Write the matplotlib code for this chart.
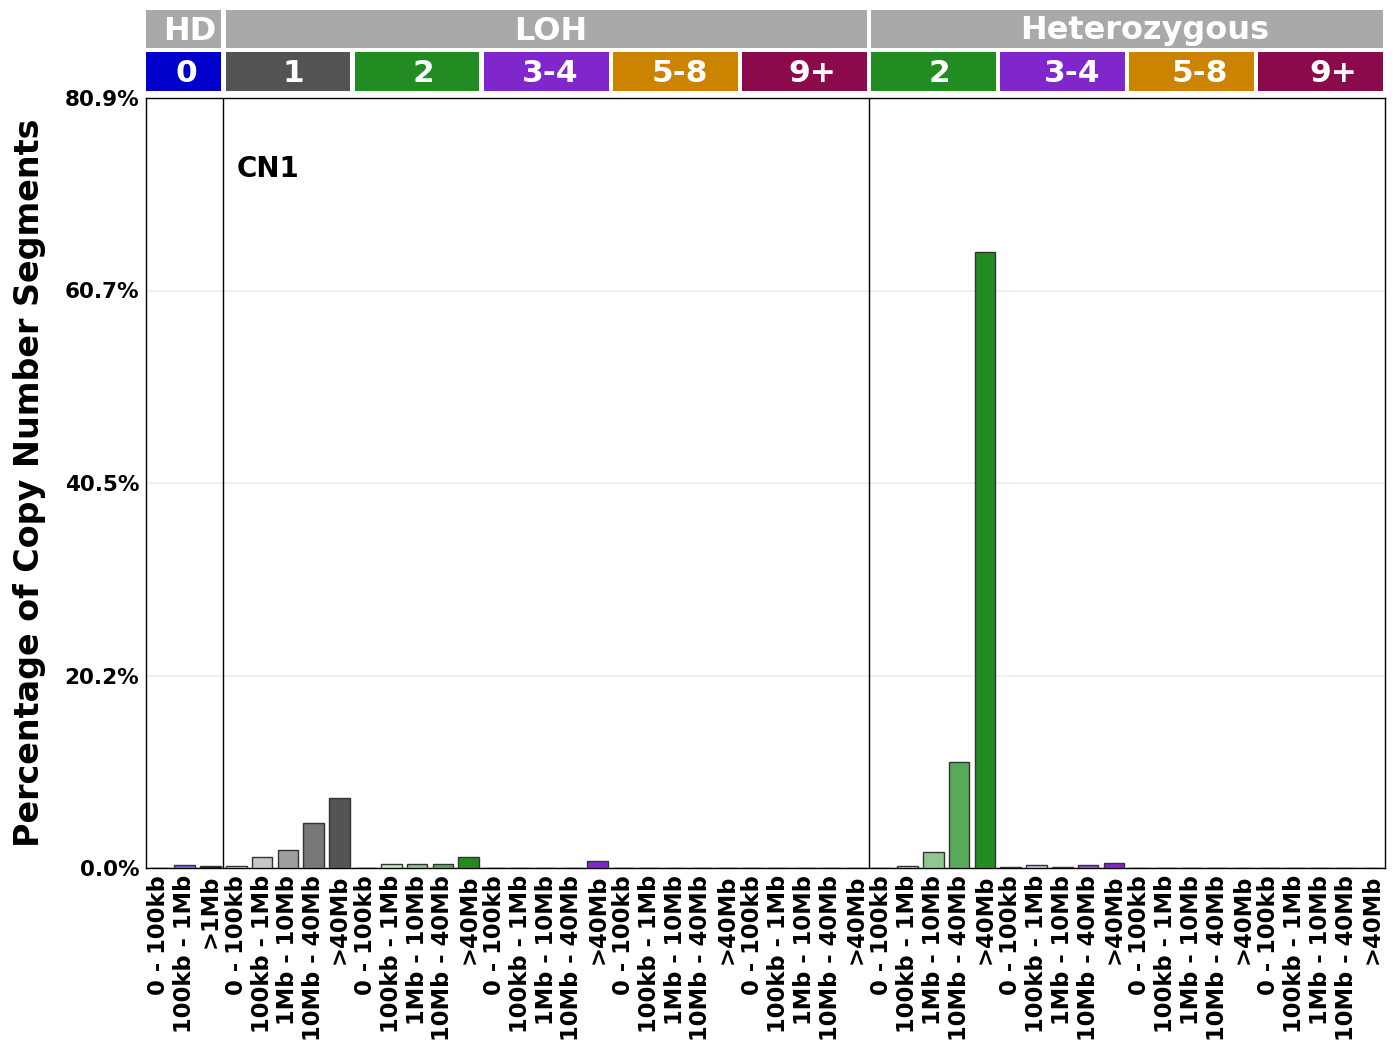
import matplotlib
matplotlib.use("Agg")
import matplotlib.pyplot as plt
import matplotlib.transforms as mtransforms
from matplotlib.patches import Rectangle

# ---- data ----
size_labels_hd = ["0 - 100kb", "100kb - 1Mb", ">1Mb"]
size_labels = ["0 - 100kb", "100kb - 1Mb", "1Mb - 10Mb", "10Mb - 40Mb", ">40Mb"]

hd_0 = [0.05, 0.28, 0.17]
loh_1 = [0.17, 1.12, 1.86, 4.70, 7.32]
loh_2 = [0.05, 0.39, 0.39, 0.39, 1.12]
loh_34 = [0.05, 0.05, 0.05, 0.0, 0.70]
loh_58 = [0.0, 0.0, 0.0, 0.0, 0.0]
loh_9 = [0.0, 0.0, 0.0, 0.0, 0.0]
het_2 = [0.0, 0.17, 1.65, 11.10, 64.72]
het_34 = [0.07, 0.28, 0.07, 0.28, 0.49]
het_58 = [0.0, 0.0, 0.0, 0.0, 0.0]
het_9 = [0.0, 0.0, 0.0, 0.0, 0.0]

group_names = ["0", "1", "2", "3-4", "5-8", "9+", "2", "3-4", "5-8", "9+"]
top_names = ["HD", "LOH", "Heterozygous"]
ymax = 80.9

# ---- styles ----
pal_hd = ["#e6e6fa", "#7070e0", "#00008b"]
pal_gray = ["#e8e8e8", "#c6c6c6", "#9e9e9e", "#777777", "#545454"]
pal_green = ["#e0f0e0", "#c6e6c6", "#8fc78f", "#5aa95a", "#228b22"]
pal_purple = ["#ecdcf5", "#d9b8ec", "#b27ce0", "#9650d5", "#7f26cc"]
pal_orange = ["#f5e6cc", "#ebcc99", "#e0b266", "#d69933", "#cc8400"]
pal_maroon = ["#e8cedb", "#d19db8", "#ba6c94", "#a23b71", "#8b0a50"]
head_colors = ["#0000cd", "#545454", "#228b22", "#7f26cc", "#cc8400", "#8b0a4c",
               "#228b22", "#7f26cc", "#cc8400", "#8b0a4c"]
# horizontal text offsets (pixels) of the header labels from their box centres
row2_offsets_px = [3, 5, 6, 4, 5, 8, 6, 10, 8, 13]
row1_offsets_px = [6, 5, 18]

groups = [hd_0, loh_1, loh_2, loh_34, loh_58, loh_9, het_2, het_34, het_58, het_9]
palettes = [pal_hd, pal_gray, pal_green, pal_purple, pal_orange, pal_maroon,
            pal_green, pal_purple, pal_orange, pal_maroon]

values, colors, labels, spans = [], [], [], []
for g, p in zip(groups, palettes):
    start = len(values)
    values += g
    colors += p[:len(g)]
    labels += (size_labels_hd if len(g) == 3 else size_labels)
    spans.append((start, len(values)))

fig = plt.figure(figsize=(13.96, 10.51), dpi=100)
W, H = 1396, 1051
ax = fig.add_axes([146 / W, 1 - 868 / H, (1385 - 146) / W, (868 - 98) / H])
px_per_unit = (1385 - 146) / len(values)

x = list(range(len(values)))
ax.bar(x, values, width=0.8, color=colors, edgecolor="#333333", linewidth=1, zorder=3)
ax.set_xlim(-0.5, len(values) - 0.5)
ax.set_ylim(0, ymax)
yt = [0, ymax / 4, ymax / 2, 3 * ymax / 4, ymax]
ax.set_yticks(yt)
ax.set_yticklabels([f"{v:.1f}%" for v in yt], fontsize=15.5, fontweight="bold")
ax.set_xticks(x)
ax.set_xticklabels(labels, rotation=90, fontsize=16.3, fontweight="bold", va="top", ha="center")
ax.tick_params(axis="both", length=0, pad=5)
ax.grid(axis="y", color="#f0f0f0", linewidth=1.5, zorder=0)
ax.set_axisbelow(True)
for s in ax.spines.values():
    s.set_linewidth(1)

ax.axvline(2.5, color="black", linewidth=1, zorder=4)
ax.axvline(27.5, color="black", linewidth=1, zorder=4)

ax.set_ylabel("Percentage of Copy Number Segments", fontsize=24, fontweight="heavy", labelpad=13)

ax.text(3.0, 73.4, "CN1", fontsize=20, fontweight="bold", ha="left", va="center")

trans = mtransforms.blended_transform_factory(ax.transData, ax.transAxes)
gap = 0.08
r2_y0, r2_y1 = (868 - 91) / 770, (868 - 52) / 770
r1_y0, r1_y1 = (868 - 48) / 770, (868 - 10) / 770
ty2 = (868 - 73) / 770
ty1 = (868 - 31) / 770

for (s, e), name, c, off in zip(spans, group_names, head_colors, row2_offsets_px):
    x0 = s - 0.5 + (gap if s > 0 else 0)
    x1 = e - 0.5 - gap
    ax.add_patch(Rectangle((x0, r2_y0), x1 - x0, r2_y1 - r2_y0, transform=trans,
                           facecolor=c, edgecolor="none", clip_on=False))
    ax.text((x0 + x1) / 2 + off / px_per_unit, ty2, name, transform=trans, color="white",
            fontsize=22.5, fontweight="bold", ha="center", va="center")

top_spans = [(0, 3), (3, 28), (28, 48)]
for (s, e), name, off in zip(top_spans, top_names, row1_offsets_px):
    x0 = s - 0.5 + (gap if s > 0 else 0)
    x1 = e - 0.5 - gap
    ax.add_patch(Rectangle((x0, r1_y0), x1 - x0, r1_y1 - r1_y0, transform=trans,
                           facecolor="#a9a9a9", edgecolor="none", clip_on=False))
    ax.text((x0 + x1) / 2 + off / px_per_unit, ty1, name, transform=trans, color="white",
            fontsize=23, fontweight="bold", ha="center", va="center")

fig.savefig("out.png", dpi=100)
